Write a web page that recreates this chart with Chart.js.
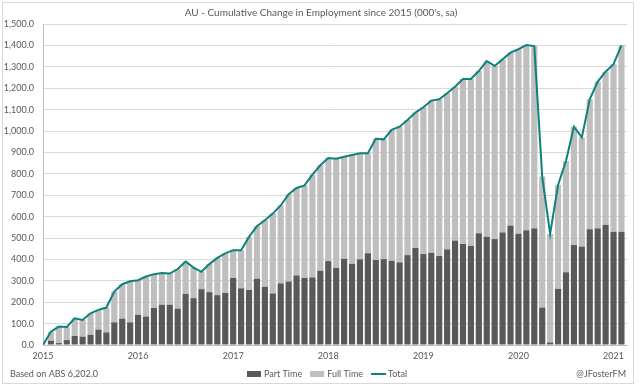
<!DOCTYPE html>
<html>
<head>
<meta charset="utf-8">
<script src="https://cdn.jsdelivr.net/npm/chart.js@4.4.0/dist/chart.umd.min.js"></script>
<style>
  html, body { margin: 0; padding: 0; background: #fff; }
  canvas { display: block; }
</style>
</head>
<body>
<canvas id="myChart" width="640" height="386"></canvas>
<script>
// monthly, Jan 2015 .. Feb 2021, cumulative change since Jan 2015 ('000s)
const months = [
  'Jan-15','Feb-15','Mar-15','Apr-15','May-15','Jun-15','Jul-15','Aug-15','Sep-15','Oct-15','Nov-15','Dec-15',
  'Jan-16','Feb-16','Mar-16','Apr-16','May-16','Jun-16','Jul-16','Aug-16','Sep-16','Oct-16','Nov-16','Dec-16',
  'Jan-17','Feb-17','Mar-17','Apr-17','May-17','Jun-17','Jul-17','Aug-17','Sep-17','Oct-17','Nov-17','Dec-17',
  'Jan-18','Feb-18','Mar-18','Apr-18','May-18','Jun-18','Jul-18','Aug-18','Sep-18','Oct-18','Nov-18','Dec-18',
  'Jan-19','Feb-19','Mar-19','Apr-19','May-19','Jun-19','Jul-19','Aug-19','Sep-19','Oct-19','Nov-19','Dec-19',
  'Jan-20','Feb-20','Mar-20','Apr-20','May-20','Jun-20','Jul-20','Aug-20','Sep-20','Oct-20','Nov-20','Dec-20',
  'Jan-21','Feb-21'
];

const partTime = [
  0, 20, 9, 23, 42, 39, 48, 72, 59, 106, 123, 106,
  141, 133, 173, 188, 188, 170, 239, 219, 261, 247, 233, 243,
  313, 265, 257, 310, 272, 241, 288, 297, 325, 313, 316, 347,
  392, 360, 403, 379, 400, 429, 397, 401, 393, 386, 420, 454,
  425, 431, 416, 447, 488, 472, 463, 522, 506, 495, 526, 558,
  520, 536, 545, 175, 12, 262, 340, 467, 460, 541, 545, 561,
  529, 529
];

const fullTime = [
  0, 42, 77, 61, 83, 78, 100, 92, 116, 144, 161, 192,
  162, 187, 158, 148, 146, 185, 151, 143, 81, 131, 174, 185,
  130, 178, 248, 245, 311, 373, 364, 408, 409, 433, 480, 493,
  482, 510, 477, 509, 496, 467, 567, 560, 612, 634, 631, 632,
  686, 711, 732, 729, 719, 771, 780, 758, 821, 809, 809, 808,
  862, 866, 852, 612, 507, 486, 520, 553, 510, 607, 686, 716,
  783, 871
];

const total = [
  0, 62, 86, 84, 125, 117, 148, 164, 175, 250, 284, 298,
  303, 320, 331, 336, 334, 355, 390, 362, 342, 378, 407, 428,
  443, 443, 505, 555, 583, 614, 652, 705, 734, 746, 796, 840,
  874, 870, 880, 888, 896, 896, 964, 961, 1005, 1020, 1051, 1086,
  1111, 1142, 1148, 1176, 1207, 1243, 1243, 1280, 1327, 1304, 1335, 1366,
  1382, 1402, 1397, 787, 519, 748, 860, 1020, 970, 1148, 1231, 1277,
  1312, 1400
];

const yearLabels = ['2015', '2016', '2017', '2018', '2019', '2020', '2021'];

const titleText = "AU - Cumulative Change in Employment since 2015 (000's, sa)";
const sourceText = 'Based on ABS 6,202.0';
const handleText = '@JFosterFM';

const textColor = '#595959';
const fontFamily = 'Lato, "Open Sans", sans-serif';

const toPoints = arr => arr.map((v, i) => ({ x: i, y: v }));

// title, legend, footer notes and the outer chart border
const decorations = {
  id: 'decorations',
  beforeDraw(chart) {
    const ctx = chart.ctx;
    ctx.save();
    ctx.fillStyle = '#ffffff';
    ctx.fillRect(0, 0, chart.width, chart.height);
    ctx.restore();
  },
  afterDraw(chart) {
    const ctx = chart.ctx;
    const ds = chart.data.datasets;
    ctx.save();
    ctx.strokeStyle = '#d9d9d9';
    ctx.lineWidth = 1;
    ctx.strokeRect(2.5, 2.5, 631, 381);

    ctx.fillStyle = textColor;
    ctx.textBaseline = 'middle';
    ctx.font = '10px ' + fontFamily;
    ctx.textAlign = 'center';
    ctx.fillText(titleText, 321, 13);

    ctx.font = '9px ' + fontFamily;
    ctx.textAlign = 'left';
    ctx.fillText(sourceText, 10, 374);
    ctx.textAlign = 'right';
    ctx.fillText(handleText, 626, 374);

    // legend
    const ly = 374;
    let lx = 247;
    ctx.textAlign = 'left';
    [ds[0], ds[1]].forEach(d => {
      ctx.fillStyle = d.backgroundColor;
      ctx.fillRect(lx, ly - 3, 14, 6);
      ctx.fillStyle = textColor;
      ctx.fillText(d.label, lx + 17, ly);
      lx += 17 + ctx.measureText(d.label).width + 8;
    });
    ctx.strokeStyle = ds[2].borderColor;
    ctx.lineWidth = 2;
    ctx.beginPath();
    ctx.moveTo(lx, ly);
    ctx.lineTo(lx + 15, ly);
    ctx.stroke();
    ctx.fillStyle = textColor;
    ctx.fillText(ds[2].label, lx + 17, ly);
    ctx.restore();
  }
};

new Chart(document.getElementById('myChart').getContext('2d'), {
  type: 'bar',
  data: {
    datasets: [
      {
        label: 'Part Time',
        data: toPoints(partTime),
        backgroundColor: '#595959',
        stack: 'employment',
        order: 2
      },
      {
        label: 'Full Time',
        data: toPoints(fullTime),
        backgroundColor: '#bfbfbf',
        stack: 'employment',
        order: 2
      },
      {
        type: 'line',
        label: 'Total',
        data: toPoints(total),
        borderColor: '#0f807b',
        borderWidth: 2,
        pointRadius: 0,
        tension: 0,
        fill: false,
        stack: 'total',
        order: 1
      }
    ]
  },
  options: {
    responsive: false,
    animation: false,
    devicePixelRatio: 1,
    layout: { padding: { top: 24, right: 13, left: 0, bottom: 0 } },
    datasets: {
      bar: { barPercentage: 0.78, categoryPercentage: 1 }
    },
    plugins: {
      legend: { display: false },
      title: { display: false },
      tooltip: { enabled: false }
    },
    scales: {
      x: {
        type: 'linear',
        stacked: true,
        offset: false,
        min: 0,
        max: 73.7,
        afterFit: s => { s.height = 41; },
        grid: { display: false, drawTicks: false },
        border: { display: true, color: '#bfbfbf' },
        ticks: {
          stepSize: 12,
          includeBounds: false,
          autoSkip: false,
          maxRotation: 0,
          padding: 6,
          color: textColor,
          font: { family: fontFamily, size: 9 },
          callback: v => (v % 12 === 0 ? yearLabels[v / 12] : '')
        }
      },
      y: {
        stacked: true,
        min: 0,
        max: 1500,
        afterFit: s => { s.width = 43; },
        grid: { color: '#d9d9d9', drawTicks: false },
        border: { display: true, color: '#bfbfbf' },
        ticks: {
          stepSize: 100,
          padding: 9,
          color: textColor,
          font: { family: fontFamily, size: 9 },
          callback: v => v.toLocaleString('en-US', { minimumFractionDigits: 1, maximumFractionDigits: 1 })
        }
      }
    }
  },
  plugins: [decorations]
});
</script>
</body>
</html>
